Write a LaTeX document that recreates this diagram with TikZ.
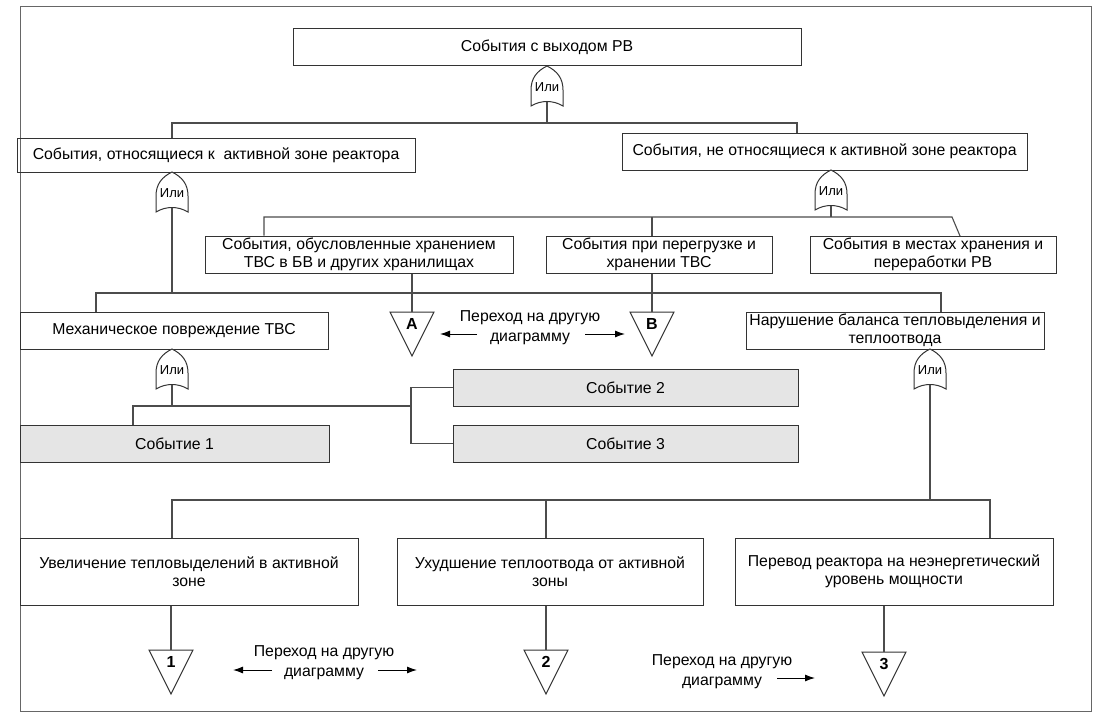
\documentclass[tikz,border=0pt]{standalone}
\usepackage{fontspec}
\setmainfont{Liberation Sans}
\usepackage{tikz}
\usetikzlibrary{arrows.meta, positioning, calc}
\tikzset{
  evt/.style={draw=black!80, line width=1pt, align=center, inner sep=1pt,
    minimum height=37pt, font=\fontsize{15.8}{18.5}\selectfont},
  basicevt/.style={evt, fill=gray!20},
  link/.style={draw=black!70, line width=1.1pt},
  pageframe/.style={draw=black!60, line width=1pt},
  arrow/.style={-{Latex[length=10pt, width=7pt]}, line width=1pt},
  note/.style={align=center, font=\fontsize{15.8}{20}\selectfont},
  orgate/.pic={
    \draw[draw=black!80, line width=1pt, fill=white] (0,0) .. controls (-10,5) and (-16,12) .. (-16,24)
      -- (-16,40) .. controls (-6,34) and (6,34) .. (16,40) -- (16,24)
      .. controls (16,12) and (10,5) .. (0,0) -- cycle;
    \node[inner sep=0pt, font=\fontsize{13}{14}\selectfont] (-lbl) at (0,21) {Или};
    \coordinate (-in) at (0,0);
    \coordinate (-out) at (0,35.5);
  },
  xfer/.pic={
    \draw[draw=black!80, line width=1pt, fill=white] (-22,0) -- (22,0) -- (0,44) -- cycle;
    \node[inner sep=0pt, font=\bfseries\fontsize{16}{18}\selectfont] (-lbl) at (0,12) {#1};
    \coordinate (-in) at (0,0);
  }
}

\begin{document}
\begin{tikzpicture}[x=1pt, y=-1pt]
    \useasboundingbox (0,0) rectangle (1108,717);
    \draw[pageframe] (20,7) rectangle (1091,711);

    \node[evt, minimum width=508pt] (top) at (547,47.5) {События с выходом РВ};
    \node[evt, minimum width=398pt, minimum height=34pt] (az) at (216,155) {События, относящиеся к \ активной зоне реактора};
    \node[evt, minimum width=405pt] (naz) at (824.5,151.5) {События, не относящиеся к активной зоне реактора};
    \node[evt, minimum width=308pt] (bv) at (359,254.5) {События, обусловленные хранением\\ТВС в БВ и других хранилищах};
    \node[evt, minimum width=226pt] (pereg) at (659,254.5) {События при перегрузке и\\хранении ТВС};
    \node[evt, minimum width=246pt] (mesta) at (933,254.5) {События в местах хранения и\\переработки РВ};
    \node[evt, minimum width=308pt] (mech) at (174,330.5) {Механическое повреждение ТВС};
    \node[evt, minimum width=298pt] (narush) at (895,330.5) {Нарушение баланса тепловыделения и\\теплоотвода};
    \node[basicevt, minimum width=309pt] (ev1) at (174.5,443.5) {Событие 1};
    \node[basicevt, minimum width=345pt] (ev2) at (625.5,387.5) {Событие 2};
    \node[basicevt, minimum width=345pt] (ev3) at (625.5,443.5) {Событие 3};
    \node[evt, minimum width=338pt, minimum height=67pt] (inc) at (189,571.5) {Увеличение тепловыделений в активной\\зоне};
    \node[evt, minimum width=306pt, minimum height=67pt] (worse) at (550,571.5) {Ухудшение теплоотвода от активной\\зоны};
    \node[evt, minimum width=318pt, minimum height=67pt] (perevod) at (894,571.5) {Перевод реактора на неэнергетический\\уровень мощности};

    \pic (g1) at (547,66) {orgate};
    \pic (g2) at (172,172) {orgate};
    \pic (g3) at (831,170) {orgate};
    \pic (g4) at (172,349) {orgate};
    \pic (g5) at (930,349) {orgate};

    \pic (xA) at (412,312) {xfer=A};
    \pic (xB) at (652,312) {xfer=B};
    \pic (x1) at (171,650) {xfer=1};
    \pic (x2) at (546,650) {xfer=2};
    \pic (x3) at (884,652) {xfer=3};

    \coordinate (s1L) at (172,123);
    \coordinate (s1R) at (797,123);
    \draw[link] (g1-out) -- (g1-out |- s1L);
    \draw[link] (az.north -| s1L) -- (s1L) -- (s1R) -- (naz.north -| s1R);

    \coordinate (s3L) at (264,217);
    \coordinate (s3R) at (952,217);
    \coordinate (s3E) at (960,236);
    \draw[link] (g3-out) -- (g3-out |- s3L);
    \draw[link] (bv.north -| s3L) -- (s3L) -- (s3R) -- (s3E);
    \draw[link] (s3L -| xB-in) -- (pereg.north -| xB-in);

    \coordinate (s2L) at (96,293);
    \coordinate (s2R) at (941,293);
    \draw[link] (g2-out) -- (g2-out |- s2L);
    \draw[link] (mech.north -| s2L) -- (s2L) -- (s2R) -- (narush.north -| s2R);
    \draw[link] (bv.south -| xA-in) -- (xA-in);
    \draw[link] (pereg.south -| xB-in) -- (xB-in);

    \coordinate (s4L) at (133,406);
    \coordinate (s4R) at (411,406);
    \draw[link] (g4-out) -- (g4-out |- s4L);
    \draw[link] (ev1.north -| s4L) -- (s4L) -- (s4R);
    \draw[link] (ev2.west) -- (ev2.west -| s4R) -- (ev3.west -| s4R) -- (ev3.west);

    \coordinate (s5L) at (172,500);
    \coordinate (s5R) at (990,500);
    \draw[link] (g5-out) -- (g5-out |- s5L);
    \draw[link] (inc.north -| s5L) -- (s5L) -- (s5R) -- (perevod.north -| s5R);
    \draw[link] (s5L -| x2-in) -- (worse.north -| x2-in);
    \draw[link] (inc.south -| x1-in) -- (x1-in);
    \draw[link] (worse.south -| x2-in) -- (x2-in);
    \draw[link] (perevod.south -| x3-in) -- (x3-in);

    \node[note] (noteAB) at (530,328) {Переход на другую\\диаграмму};
    \node[note] (note12) at (324,663) {Переход на другую\\диаграмму};
    \node[note] (note3) at (722,672) {Переход на другую\\диаграмму};
    \coordinate (aA) at (477,334);
    \coordinate (tA) at (440,334);
    \coordinate (aB) at (585,334);
    \coordinate (tB) at (625,334);
    \coordinate (a1) at (272,670);
    \coordinate (t1) at (233,670);
    \coordinate (a2) at (378,670);
    \coordinate (t2) at (417,670);
    \coordinate (a3) at (777,678);
    \coordinate (t3) at (815,678);
    \draw[arrow] (aA) -- (tA);
    \draw[arrow] (aB) -- (tB);
    \draw[arrow] (a1) -- (t1);
    \draw[arrow] (a2) -- (t2);
    \draw[arrow] (a3) -- (t3);
  \end{tikzpicture}
\end{document}
